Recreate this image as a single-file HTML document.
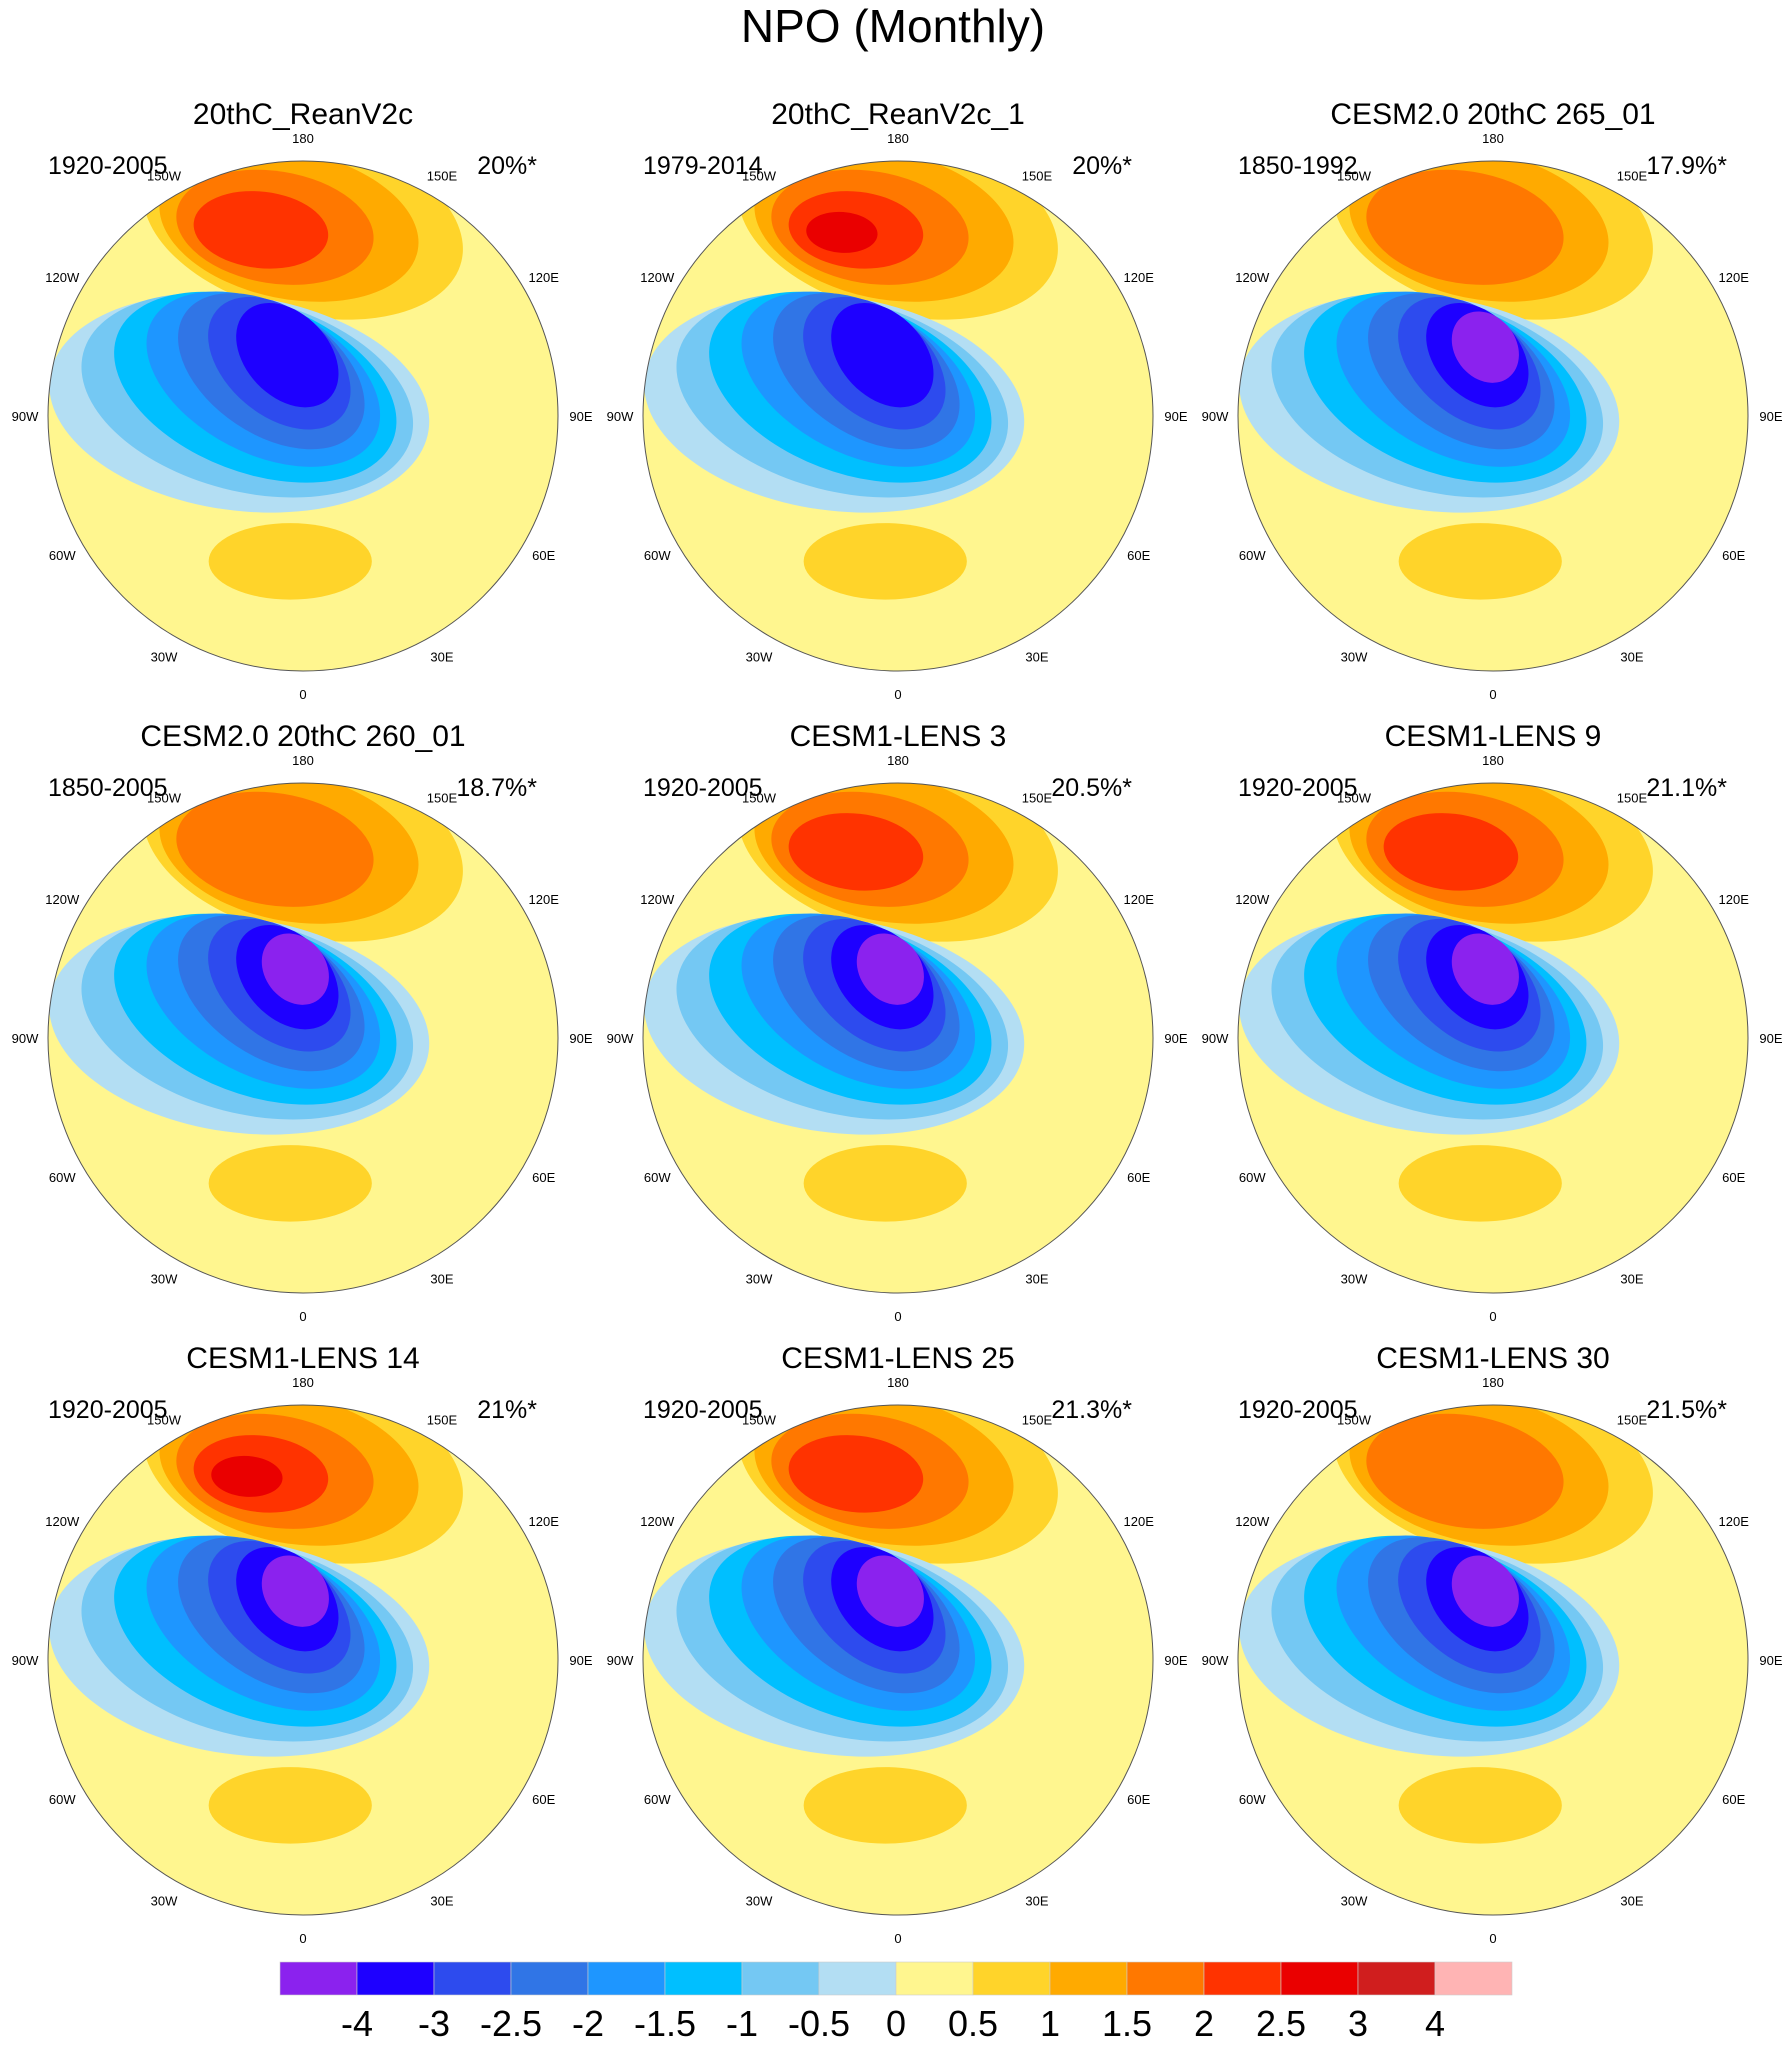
<!DOCTYPE html>
<html><head><meta charset="utf-8"><style>
body{margin:0;background:#fff;width:1786px;height:2042px;overflow:hidden;font-family:"Liberation Sans",sans-serif}
</style></head><body>
<svg id="fig" width="1786" height="2042" viewBox="0 0 1786 2042" xmlns="http://www.w3.org/2000/svg" font-family="Liberation Sans, sans-serif">
<text x="893" y="42" text-anchor="middle" font-size="46">NPO (Monthly)</text>
<g id="panels"></g>
<g id="cbar"></g>
</svg>
<script>
const titles=["20thC_ReanV2c","20thC_ReanV2c_1","CESM2.0 20thC 265_01","CESM2.0 20thC 260_01","CESM1-LENS 3","CESM1-LENS 9","CESM1-LENS 14","CESM1-LENS 25","CESM1-LENS 30"];
const years=["1920-2005","1979-2014","1850-1992","1850-2005","1920-2005","1920-2005","1920-2005","1920-2005","1920-2005"];
const pcts=["20%*","20%*","17.9%*","18.7%*","20.5%*","21.1%*","21%*","21.3%*","21.5%*"];
const blueBands=[7,7,8,8,8,8,8,8,8];
const orangeBands=[4,5,3,3,4,4,5,4,3];
const cbLabels=["-4","-3","-2.5","-2","-1.5","-1","-0.5","0","0.5","1","1.5","2","2.5","3","4"];
const colors=["#8B22EE","#1E00FF","#2D4BEE","#3075E6","#1E96FF","#00BFFF","#74C8F3","#B3DEF3","#FFF68F","#FFD42A","#FFAA00","#FF7800","#FF3300","#EA0000","#D01E1E","#FFB4B4"];
const NS="http://www.w3.org/2000/svg";
const cols=[303,898,1493], rows=[416,1038,1660], R=255;
const panels=document.getElementById('panels');
function mk(tag,attrs,parent){const e=document.createElementNS(NS,tag);for(const k in attrs)e.setAttribute(k,attrs[k]);parent.appendChild(e);return e;}
const lons=[["180",180],["150E",150],["120E",120],["90E",90],["60E",60],["30E",30],["0",0],["30W",-30],["60W",-60],["90W",-90],["120W",-120],["150W",-150]];
for(let i=0;i<9;i++){
  const cx=cols[i%3], cy=rows[Math.floor(i/3)];
  const g=mk('g',{},panels);
  
  
  const t=mk('text',{x:cx,y:cy-292,'text-anchor':'middle','font-size':30},g);t.textContent=titles[i];
  
  const y=mk('text',{x:cx-255,y:cy-242,'font-size':25},g);y.textContent=years[i];
  
  const p=mk('text',{x:cx+234,y:cy-242,'text-anchor':'end','font-size':25},g);p.textContent=pcts[i];
  
  const cp=mk('clipPath',{id:'c'+i},g);mk('circle',{cx:cx,cy:cy,r:R},cp);
  const m=mk('g',{'clip-path':'url(#c'+i+')'},g);
  
  mk('circle',{cx:cx,cy:cy,r:R,fill:colors[8]},m);
  const nO=orangeBands[i];
  for(let k=0;k<nO;k++){
    const f=k/4;
    const ox=cx+R*(0.0-0.22*f), oy=cy+R*(-0.76+0.04*f);
    const rx=R*(0.64-0.5*f), ry=R*(0.36-0.28*f);
    mk('ellipse',{cx:ox,cy:oy,rx:rx,ry:ry,transform:`rotate(${14-10*f} ${ox} ${oy})`,fill:colors[9+k]},m);
  }
  mk('ellipse',{cx:cx-R*0.05,cy:cy+R*0.57,rx:R*0.32,ry:R*0.15,fill:colors[9]},m);
  const nB=blueBands[i];
  for(let k=0;k<nB;k++){
    const f=k/7;
    const bx=cx+R*(-0.25+0.22*f), by=cy+R*(-0.05-0.22*f);
    const rx=R*(0.75-0.6*f), ry=R*(0.42-0.3*f);
    mk('ellipse',{cx:bx,cy:by,rx:rx,ry:ry,transform:`rotate(${8+45*f} ${bx} ${by})`,fill:colors[7-k]},m);
  }
  const ring=mk('circle',{cx:cx,cy:cy,r:R,fill:'none',stroke:'#555','stroke-width':1},g);
  
  for(const [lab,l] of lons){
    const a=l*Math.PI/180, rr=R*1.09;
    const lt=mk('text',{x:cx+rr*Math.sin(a),y:cy+rr*Math.cos(a)+5,'text-anchor':'middle','font-size':13},g);
    lt.textContent=lab;
    
  }
}
const cb=document.getElementById('cbar');
const x0=280,x1=1512,w=(x1-x0)/16;
for(let k=0;k<16;k++){
  const r=mk('rect',{x:x0+k*w,y:1962,width:w,height:33,fill:colors[k],stroke:'#ccc','stroke-width':0.6},cb);
  
}
cbLabels.forEach((s,k)=>{
  const t=mk('text',{x:x0+(k+1)*w,y:2036,'text-anchor':'middle','font-size':36},cb);
  t.textContent=s;
  
});
</script>
</body></html>
